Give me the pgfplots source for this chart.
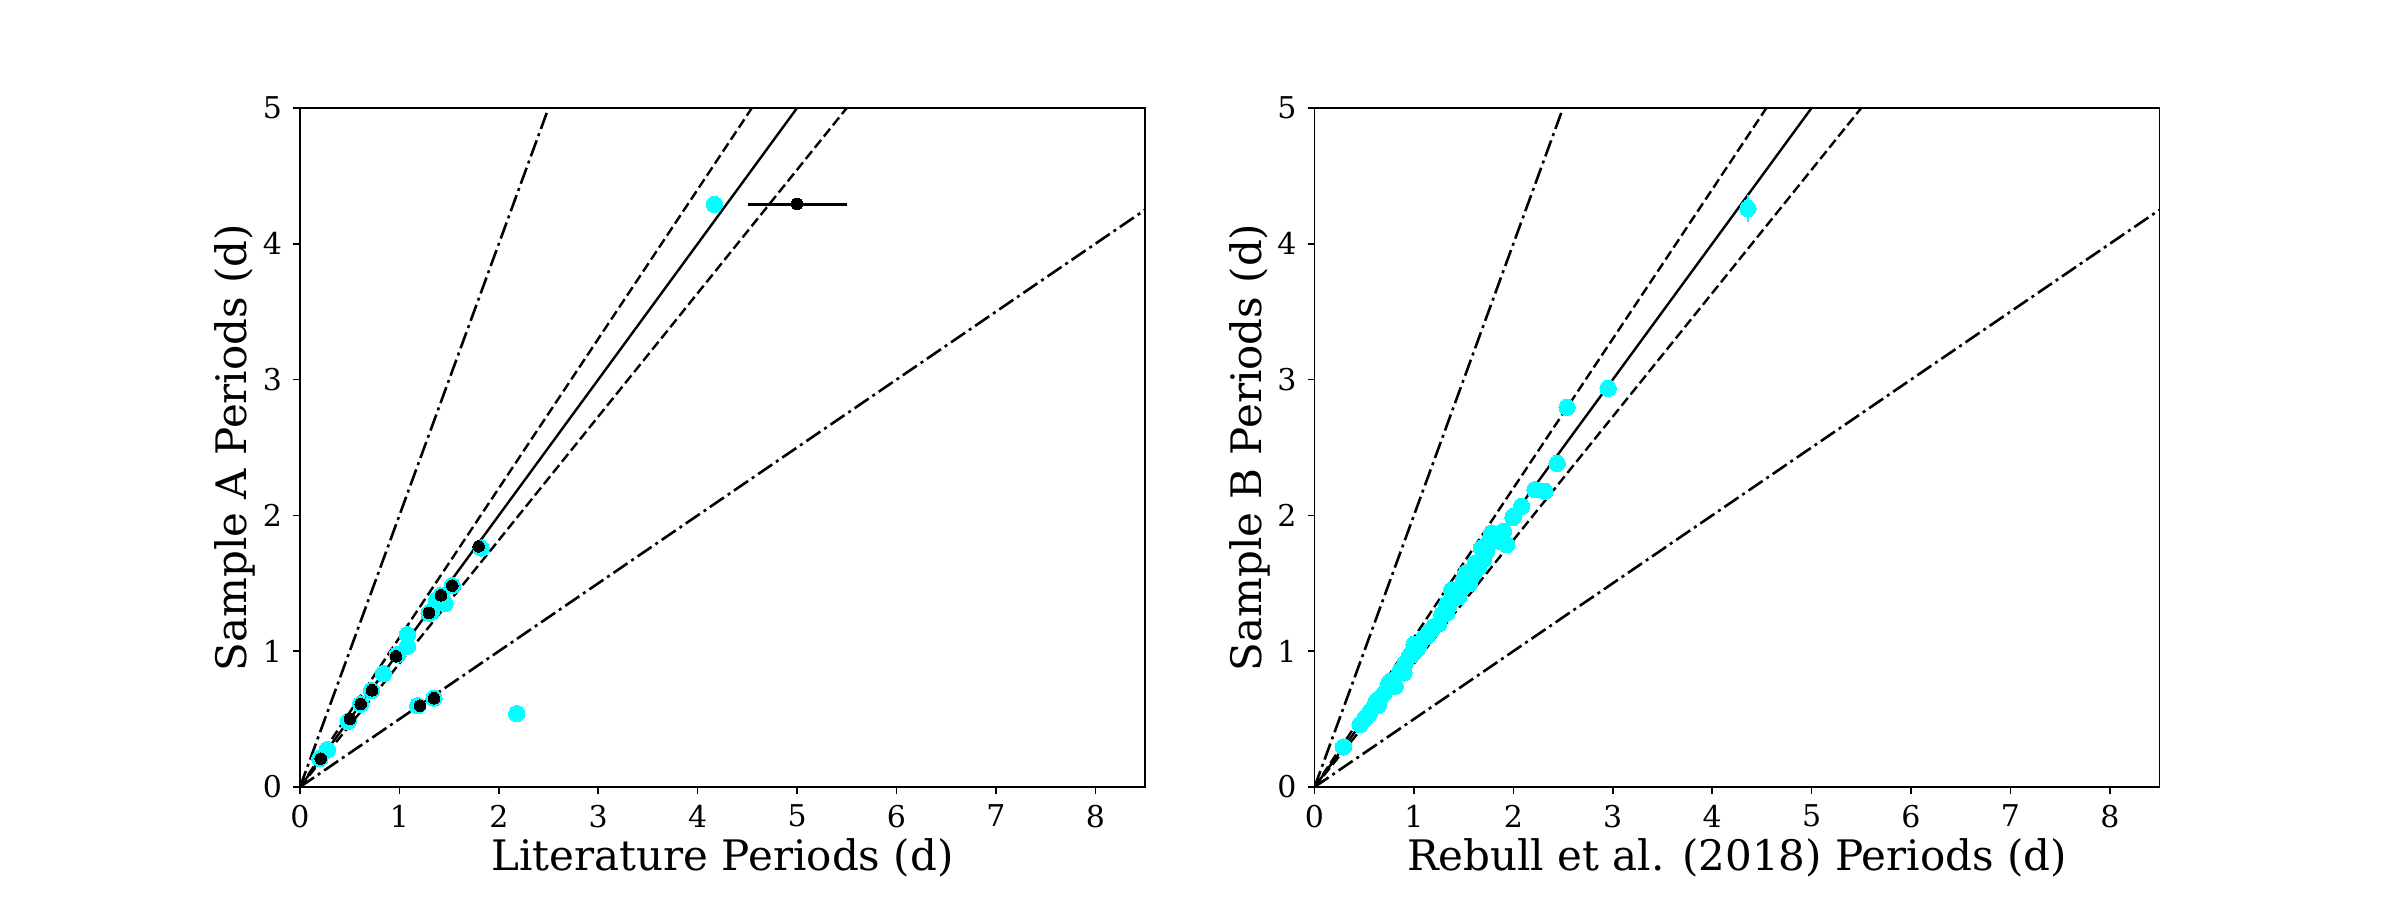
\documentclass[border=0pt]{standalone}
\usepackage{fontspec}
\setmainfont{DejaVu Serif}
\usepackage{pgfplots}
\pgfplotsset{compat=1.18}
\definecolor{aqua}{RGB}{0,255,255}
\pgfplotsset{
  panel/.style={
    scale only axis, width=422.5pt, height=339.5pt,
    xmin=0, xmax=8.5, ymin=0, ymax=5,
    xtick={0,1,...,8}, ytick={0,1,...,5},
    tick align=outside, xtick pos=lower, ytick pos=left,
    major tick length=3.5pt,
    every tick/.style={black, line width=0.8pt},
    axis line style={line width=0.9pt},
    /pgf/number format/assume math mode=true,
    tick label style={font=\fontsize{15}{18}\selectfont},
    xticklabel style={yshift=-2pt},
    yticklabel style={xshift=-2pt},
    every axis x label/.style={at={(axis description cs:0.5,-0.1237)}, anchor=base, font=\fontsize{21}{25}\selectfont},
    every axis y label/.style={at={(axis description cs:-0.0770,0.5)}, anchor=center, rotate=90, font=\fontsize{21}{25}\selectfont},
    clip mode=individual,
  },
  refsolid/.style={black, line width=1.2pt, no marks},
  refdash/.style={black, line width=1.2pt, no marks, dash pattern=on 5pt off 2.2pt},
  refdd/.style={black, line width=1.3pt, no marks, dash pattern=on 8.5pt off 2.3pt on 1.5pt off 2.3pt},
  cyanpts/.style={only marks, mark=*, mark size=4.1pt, mark options={fill=aqua, draw=aqua, line width=0pt}},
  blackpts/.style={only marks, mark=*, mark size=2.9pt, mark options={fill=black, draw=black, line width=0pt}},
}
\begin{document}
\begin{tikzpicture}
\begin{axis}[panel, at={(0,0)}, anchor=south west,
  xlabel={Literature Periods (d)}, ylabel={Sample A Periods (d)}]
\addplot[refdd] coordinates {(0,0) (10,20)};
\addplot[refdash] coordinates {(0,0) (10,11)};
\addplot[refsolid] coordinates {(0,0) (10,10)};
\addplot[refdash] coordinates {(0,0) (11,10)};
\addplot[refdd] coordinates {(0,0) (10,5)};
\addplot[cyanpts] coordinates {
(0.20,0.21) (0.275,0.275) (0.486,0.484) (0.61,0.61) (0.72,0.71) (0.838,0.835)
(0.98,0.975) (1.080,1.036) (1.080,1.122) (1.184,0.599) (1.348,0.655)
(1.298,1.281) (1.324,1.294) (1.375,1.380) (1.459,1.350) (1.418,1.411) (1.532,1.483)
(1.821,1.760) (2.180,0.540) (4.168,4.29)};
\addplot[black, line width=1.5pt, no marks] coordinates {(4.505,4.293) (5.50,4.293)};
\addplot[blackpts] coordinates {
(0.208,0.209) (0.503,0.501) (0.610,0.611) (0.724,0.712) (0.966,0.962)
(1.207,0.599) (1.348,0.653) (1.298,1.281) (1.418,1.411) (1.532,1.483)
(1.797,1.772) (5.0,4.293)};
\end{axis}
\begin{axis}[panel, at={(507.25pt,0)}, anchor=south west,
  xlabel={Rebull et al. (2018) Periods (d)}, ylabel={Sample B Periods (d)}]
\addplot[refdd] coordinates {(0,0) (10,20)};
\addplot[refdash] coordinates {(0,0) (10,11)};
\addplot[refsolid] coordinates {(0,0) (10,10)};
\addplot[refdash] coordinates {(0,0) (11,10)};
\addplot[refdd] coordinates {(0,0) (10,5)};
\addplot[aqua, line width=1.2pt, no marks] coordinates {(4.36,4.16) (4.36,4.36)};
\addplot[aqua, line width=1.2pt, no marks] coordinates {(2.441,2.33) (2.441,2.43)};
\addplot[cyanpts] coordinates {
(0.292,0.295) (0.459,0.459) (0.509,0.508) (0.55,0.54) (0.560,0.557) (0.610,0.606)
(0.62,0.63) (0.660,0.655) (0.70,0.69) (0.744,0.736) (0.75,0.77) (0.811,0.741)
(0.794,0.790) (0.861,0.852) (0.88,0.87) (0.911,0.913) (0.95,0.96) (0.978,0.974)
(1.029,1.011) (1.05,1.04) (1.10,1.10) (1.129,1.109) (1.15,1.14) (1.180,1.159)
(1.20,1.18) (1.28,1.27) (1.309,1.276) (1.330,1.281) (1.330,1.343) (1.35,1.33)
(1.397,1.392) (1.42,1.43) (1.45,1.40) (1.498,1.478) (1.50,1.52) (1.521,1.572)
(1.55,1.58) (1.565,1.527) (1.531,1.576) (1.598,1.600) (1.60,1.57) (1.62,1.65)
(1.65,1.62) (1.699,1.674) (1.70,1.72) (1.732,1.735) (1.75,1.80) (1.783,1.870)
(1.866,1.809) (1.900,1.883) (1.934,1.785) (1.996,1.984) (2.001,1.993) (2.084,2.067)
(2.218,2.190) (2.319,2.177) (2.441,2.383) (2.541,2.796) (2.954,2.936) (4.36,4.26)
(0.64,0.60) (0.90,0.84) (1.00,1.05) (1.25,1.20) (1.38,1.45) (1.56,1.50) (1.68,1.76)};
\end{axis}
\pgfresetboundingbox
\useasboundingbox (-150pt,-56.5pt) rectangle (1050pt,393.5pt);
\end{tikzpicture}
\end{document}
